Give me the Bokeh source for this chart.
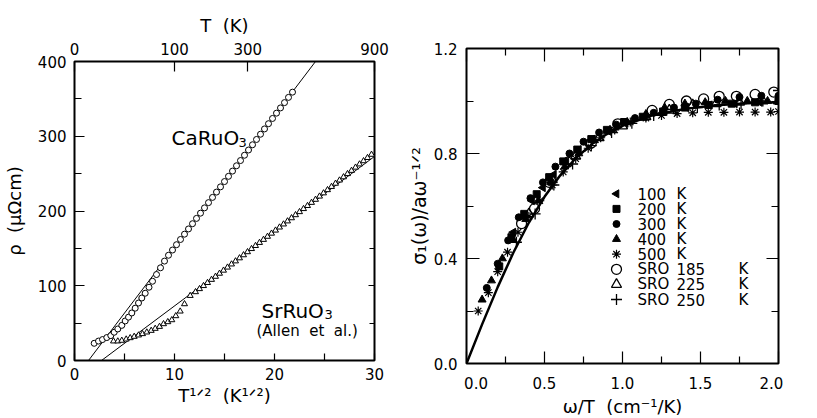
import math
from bokeh.plotting import figure
from bokeh.layouts import row
from bokeh.models import FixedTicker, LinearAxis, Label, Range1d
from bokeh.embed import file_html
from bokeh.resources import INLINE

FONT = "DejaVu Sans"
SP2 = "\u00a0\u00a0"

# ---------------- left panel data (x = T^1/2 in K^1/2, y = rho in uOhm cm)
ca_sqrtT = [1.97, 2.4, 2.8, 3.23, 3.63, 3.97, 4.33, 4.73, 5.07, 5.4, 5.73, 6.07, 6.4, 6.73,
            7.07, 7.45, 7.8, 8.2, 8.6, 9.0, 9.4, 9.8, 10.2, 10.6, 11.0, 11.4, 11.8, 12.2,
            12.6, 13.0, 13.4, 13.8, 14.2, 14.6, 15.0, 15.4, 15.8, 16.2, 16.6, 17.0, 17.4,
            17.8, 18.2, 18.6, 19.0, 19.4, 19.8, 20.2, 20.6, 21.0, 21.4, 21.8]
ca_rho = [23, 26, 28, 30.7, 33.3, 37.8, 42.2, 47, 52.9, 58, 63.6, 70, 76.9, 83.6,
          90, 98, 106, 115, 124, 133, 140.8, 147.8, 154.9, 161.9, 169.0, 176.0, 183.0, 190.1,
          197.1, 204.2, 211.2, 218.2, 225.3, 232.3, 239.4, 246.4, 253.4, 260.5, 267.5, 274.6, 281.6,
          288.6, 295.7, 302.7, 309.8, 316.8, 323.8, 330.9, 337.9, 345.0, 352.0, 359.0]
sr_sqrtT = [3.9, 4.33, 4.73, 5.17, 5.57, 5.97, 6.4, 6.8, 7.23, 7.67, 8.07, 8.5, 8.9, 9.33,
            9.73, 10.13, 10.57, 11.0, 11.57, 12.1, 12.5, 12.9, 13.3, 13.7, 14.1, 14.5, 14.9,
            15.3, 15.7, 16.1, 16.5, 16.9, 17.3, 17.7, 18.1, 18.5, 18.9, 19.3, 19.7, 20.1,
            20.5, 20.9, 21.3, 21.7, 22.1, 22.5, 22.9, 23.3, 23.7, 24.1, 24.5, 24.9, 25.3,
            25.7, 26.1, 26.5, 26.9, 27.3, 27.7, 28.1, 28.5, 28.9, 29.3, 29.7]
sr_rho = [25.8, 25.8, 26.7, 28.4, 30.2, 32.0, 33.8, 35.6, 37.8, 40.0, 42.7, 45.3, 48.9, 51.6,
          54.2, 59.6, 65.8, 75.6, 86.7, 91.7, 95.8, 99.9, 104.0, 108.2, 112.3, 116.4, 120.5,
          124.6, 128.8, 132.9, 137.0, 141.1, 145.2, 149.4, 153.5, 157.6, 161.7, 165.8, 170.0, 174.1,
          178.2, 182.3, 186.4, 190.6, 194.7, 198.8, 202.9, 207.0, 211.2, 215.3, 219.6, 223.9, 228.2,
          232.5, 236.8, 241.1, 245.4, 249.7, 254.0, 258.3, 262.6, 266.9, 271.2, 275.5]
ca_fit_x = [1.4, 24.1]
ca_fit_y = [0, 400]
sr_fit_x = [2.7, 30.0]
sr_fit_y = [0, 273]

left_bottom_ticks = [0, 10, 20, 30]
left_bottom_minor = [5, 15, 25]
left_y_ticks = [0, 100, 200, 300, 400]
left_y_minor = [50, 150, 250, 350]
top_T_values = [0, 100, 300, 900]
top_T_labels = ["0", "100", "300", "900"]

# ---------------- right panel data (x = omega/T, y = sigma1/(a omega^-1/2))
fit_wT = [0.0, 0.1, 0.2, 0.3, 0.4, 0.5, 0.6, 0.7, 0.8, 0.9, 1.0, 1.2, 1.4, 1.6, 1.8, 2.0]
fit_sig = [0.0, 0.149, 0.291, 0.422, 0.537, 0.635, 0.716, 0.782, 0.834, 0.874, 0.905,
           0.947, 0.970, 0.984, 0.991, 0.995]

k100_x = [0.30, 0.36, 0.42, 0.49, 0.56, 0.64, 0.72, 0.81, 0.91, 1.02, 1.14, 1.27, 1.41, 1.56, 1.72, 1.88, 2.0]
k100_y = [0.50, 0.56, 0.62, 0.67, 0.72, 0.77, 0.815, 0.855, 0.885, 0.915, 0.94, 0.96, 0.975, 0.985, 0.99, 0.995, 0.995]
k200_x = [0.21, 0.288, 0.37, 0.45, 0.53, 0.62, 0.71, 0.80, 0.90, 1.01, 1.13, 1.26, 1.40, 1.55, 1.70, 1.85, 2.0]
k200_y = [0.37, 0.481, 0.57, 0.645, 0.71, 0.77, 0.815, 0.855, 0.89, 0.92, 0.94, 0.96, 0.975, 0.985, 0.99, 0.995, 1.0]
k300_x = [0.13, 0.20, 0.267, 0.335, 0.41, 0.49, 0.57, 0.66, 0.75, 0.85, 0.96, 1.08, 1.20, 1.33, 1.47, 1.61, 1.75, 1.89, 2.0]
k300_y = [0.288, 0.38, 0.469, 0.557, 0.63, 0.69, 0.75, 0.80, 0.845, 0.88, 0.91, 0.935, 0.955, 0.975, 0.99, 1.005, 1.015, 1.02, 1.02]
k400_x = [0.10, 0.16, 0.23, 0.30, 0.38, 0.46, 0.54, 0.63, 0.72, 0.82, 0.92, 1.03, 1.15, 1.27, 1.40, 1.53, 1.66, 1.80, 1.93]
k400_y = [0.243, 0.316, 0.40, 0.47, 0.55, 0.62, 0.69, 0.75, 0.80, 0.85, 0.89, 0.92, 0.95, 0.975, 0.99, 0.995, 1.0, 1.0, 1.0]
k500_x = [0.075, 0.14, 0.20, 0.263, 0.33, 0.40, 0.47, 0.55, 0.62, 0.70, 0.78, 0.86, 0.95, 1.05,
          1.15, 1.25, 1.35, 1.45, 1.55, 1.65, 1.75, 1.85, 1.95, 2.0]
k500_y = [0.20, 0.27, 0.35, 0.424, 0.50, 0.56, 0.62, 0.68, 0.73, 0.78, 0.82, 0.86, 0.89, 0.92,
          0.935, 0.945, 0.952, 0.955, 0.957, 0.957, 0.958, 0.958, 0.958, 0.96]
sro185_x = [0.353, 0.436, 0.53, 0.65, 0.80, 0.97, 1.19, 1.30, 1.41, 1.52, 1.62, 1.73, 1.85, 1.97]
sro185_y = [0.533, 0.59, 0.69, 0.767, 0.84, 0.913, 0.964, 0.987, 1.0, 1.008, 1.018, 1.018, 1.025, 1.034]
sro225_x = [0.40, 0.55, 0.70, 0.85, 1.00, 1.15, 1.30, 1.45, 1.60, 1.75, 1.90, 2.0]
sro225_y = [0.57, 0.70, 0.79, 0.86, 0.905, 0.94, 0.965, 0.985, 0.99, 0.995, 1.0, 1.0]
sro250_x = [0.32, 0.44, 0.56, 0.68, 0.80, 0.93, 1.06, 1.20, 1.34, 1.48, 1.62, 1.76, 1.90, 2.0]
sro250_y = [0.462, 0.57, 0.68, 0.76, 0.83, 0.88, 0.915, 0.945, 0.965, 0.975, 0.985, 0.99, 1.0, 1.04]

legend_col1 = ["100", "200", "300", "400", "500", "SRO", "SRO", "SRO"]
legend_col2 = ["K", "K", "K", "K", "K", "185", "225", "250"]
legend_col3 = ["", "", "", "", "", "K", "K", "K"]

right_x_ticks = [0, 0.5, 1.0, 1.5, 2.0]
right_x_labels = ["\u00a0\u00a0\u00a0\u00a00.0", "0.5", "1.0", "1.5", "2.0\u00a0\u00a0\u00a0"]
right_x_minor = [0.25, 0.75, 1.25, 1.75]
right_y_ticks = [0, 0.4, 0.8, 1.2]
right_y_labels = ["0.0", "0.4", "0.8", "1.2"]
right_y_minor = [0.2, 0.6, 1.0]


def lab(p, x, y, text, size, angle=0.0, align="left", baseline="alphabetic"):
    p.add_layout(Label(x=x, y=y, text=text, text_font=FONT, text_font_size=f"{size}px",
                       angle=angle, text_align=align, text_baseline=baseline,
                       text_color="black"))


def style_axis(ax, ticks, minor, major_in, minor_in, labels=True, standoff=8, size=15,
               title=None, title_size=18, title_standoff=5):
    ax.ticker = FixedTicker(ticks=ticks, minor_ticks=minor)
    ax.axis_line_color = None
    ax.major_tick_in = major_in
    ax.major_tick_out = 0
    ax.minor_tick_in = minor_in
    ax.minor_tick_out = 0
    ax.major_tick_line_color = "black"
    ax.minor_tick_line_color = "black"
    ax.major_tick_line_width = 1.2
    ax.minor_tick_line_width = 1.2
    ax.major_label_text_font = FONT
    ax.major_label_text_font_size = f"{size}px"
    ax.major_label_text_color = "black" if labels else None
    ax.major_label_standoff = standoff
    if title:
        ax.axis_label = title
        ax.axis_label_text_font = FONT
        ax.axis_label_text_font_size = f"{title_size}px"
        ax.axis_label_text_font_style = "normal"
        ax.axis_label_text_color = "black"
        ax.axis_label_standoff = title_standoff


# ================= left panel
p1 = figure(frame_width=300, frame_height=299, min_border_left=71, min_border_right=30,
            min_border_top=61, min_border_bottom=50, frame_align=False,
            x_range=Range1d(0, 30), y_range=Range1d(0, 400),
            output_backend="svg", toolbar_location=None,
            background_fill_color="white", border_fill_color="white")
p1.grid.visible = False
p1.outline_line_color = "black"
p1.outline_line_width = 2

style_axis(p1.xaxis[0], left_bottom_ticks, left_bottom_minor, 7, 7, standoff=7,
           title="T\u00b9\u141f\u00b2" + SP2 + "(K\u00b9\u141f\u00b2)", title_standoff=2)
style_axis(p1.yaxis[0], left_y_ticks, left_y_minor, 10, 7, standoff=8,
           title="\u03c1" + SP2 + "(\u03bc\u03a9cm)", title_standoff=10)
ax_top = LinearAxis()
top_pos = [math.sqrt(t) for t in top_T_values]
style_axis(ax_top, top_pos, [], 10, 0, standoff=7, title="T" + SP2 + "(K)", title_standoff=4)
ax_top.major_label_overrides = {v: s for v, s in zip(top_pos, top_T_labels)}
p1.add_layout(ax_top, "above")
ax_r1 = LinearAxis()
style_axis(ax_r1, left_y_ticks, left_y_minor, 6, 5, labels=False, standoff=0)
p1.add_layout(ax_r1, "right")

p1.line(ca_fit_x, ca_fit_y, line_color="black", line_width=1)
p1.line(sr_fit_x, sr_fit_y, line_color="black", line_width=1)
p1.scatter(ca_sqrtT, ca_rho, marker="circle", size=6, fill_color="white",
           line_color="black", line_width=1)
p1.scatter(sr_sqrtT, sr_rho, marker="triangle", size=6, fill_color="white",
           line_color="black", line_width=1)


def lx(px):
    return (px - 71) / 10.0


def ly(py):
    return (360 - py) / 0.75


lab(p1, lx(168), ly(137), "CaRuO", 20)
lab(p1, lx(235), ly(141), "3", 13)
lab(p1, lx(258), ly(310), "SrRuO", 20)
lab(p1, lx(321), ly(314), "3", 13)
lab(p1, lx(253), ly(330), "(Allen" + SP2 + "et" + SP2 + "al.)", 15)

# ================= right panel
p2 = figure(frame_width=312, frame_height=315, min_border_left=61, min_border_right=31,
            min_border_top=48, min_border_bottom=47, frame_align=False,
            x_range=Range1d(0, 2.0), y_range=Range1d(0, 1.2),
            output_backend="svg", toolbar_location=None,
            background_fill_color="white", border_fill_color="white")
p2.grid.visible = False
p2.outline_line_color = "black"
p2.outline_line_width = 2

style_axis(p2.xaxis[0], right_x_ticks, right_x_minor, 12, 7, standoff=11,
           title="\u03c9/T" + SP2 + "(cm\u207b\u00b9/K)", title_size=18, title_standoff=0)
p2.xaxis[0].major_label_overrides = {v: s for v, s in zip(right_x_ticks, right_x_labels)}
style_axis(p2.yaxis[0], right_y_ticks, right_y_minor, 13, 7, standoff=9,
           title="\u03c3\u2081(\u03c9)/a\u03c9\u207b\u00b9\u141f\u00b2", title_size=19,
           title_standoff=1)
p2.yaxis[0].major_label_overrides = {v: s for v, s in zip(right_y_ticks, right_y_labels)}
ax_t2 = LinearAxis()
style_axis(ax_t2, right_x_ticks, right_x_minor, 13, 7, labels=False, standoff=0)
p2.add_layout(ax_t2, "above")
ax_r2 = LinearAxis()
style_axis(ax_r2, right_y_ticks, right_y_minor, 12, 7, labels=False, standoff=0)
p2.add_layout(ax_r2, "right")

p2.line(fit_wT, fit_sig, line_color="black", line_width=2.5)
p2.scatter(k100_x, k100_y, marker="triangle", angle=math.pi / 2, size=8,
           fill_color="black", line_color="black")
p2.scatter(k200_x, k200_y, marker="square", size=7, fill_color="black", line_color="black")
p2.scatter(k300_x, k300_y, marker="circle", size=7, fill_color="black", line_color="black")
p2.scatter(k400_x, k400_y, marker="triangle", size=8, fill_color="black", line_color="black")
p2.scatter(k500_x, k500_y, marker="asterisk", size=9, line_color="black", line_width=1.2)
p2.scatter(sro185_x, sro185_y, marker="circle", size=10, fill_color=None,
           line_color="black", line_width=1.3)
p2.scatter(sro225_x, sro225_y, marker="triangle", size=10, fill_color=None,
           line_color="black", line_width=1.3)
p2.scatter(sro250_x, sro250_y, marker="cross", size=11, line_color="black", line_width=1.3)


def rx(px):
    return (px - 465) / 156.0


def ry(py):
    return (363 - py) / 262.5


leg_rows_py = [193.3, 208.4, 223.5, 238.6, 253.7, 268.8, 283.9, 299.0]
leg_y = [ry(v) for v in leg_rows_py]
leg_mx = rx(615)
p2.scatter([leg_mx], [leg_y[0]], marker="triangle", angle=math.pi / 2, size=8,
           fill_color="black", line_color="black")
p2.scatter([leg_mx], [leg_y[1]], marker="square", size=7, fill_color="black", line_color="black")
p2.scatter([leg_mx], [leg_y[2]], marker="circle", size=7, fill_color="black", line_color="black")
p2.scatter([leg_mx], [leg_y[3]], marker="triangle", size=8, fill_color="black", line_color="black")
p2.scatter([leg_mx], [leg_y[4]], marker="asterisk", size=9, line_color="black", line_width=1.2)
p2.scatter([leg_mx], [leg_y[5]], marker="circle", size=10, fill_color=None,
           line_color="black", line_width=1.3)
p2.scatter([leg_mx], [leg_y[6]], marker="triangle", size=10, fill_color=None,
           line_color="black", line_width=1.3)
p2.scatter([leg_mx], [leg_y[7]], marker="cross", size=11, line_color="black", line_width=1.3)
for yv, c1, c2, c3 in zip(leg_y, legend_col1, legend_col2, legend_col3):
    lab(p2, rx(636), yv, c1, 15, baseline="middle")
    lab(p2, rx(675), yv, c2, 15, baseline="middle")
    if c3:
        lab(p2, rx(737), yv, c3, 15, baseline="middle")

layout = row(p1, p2)
open("out.html", "w").write(file_html(layout, INLINE))
